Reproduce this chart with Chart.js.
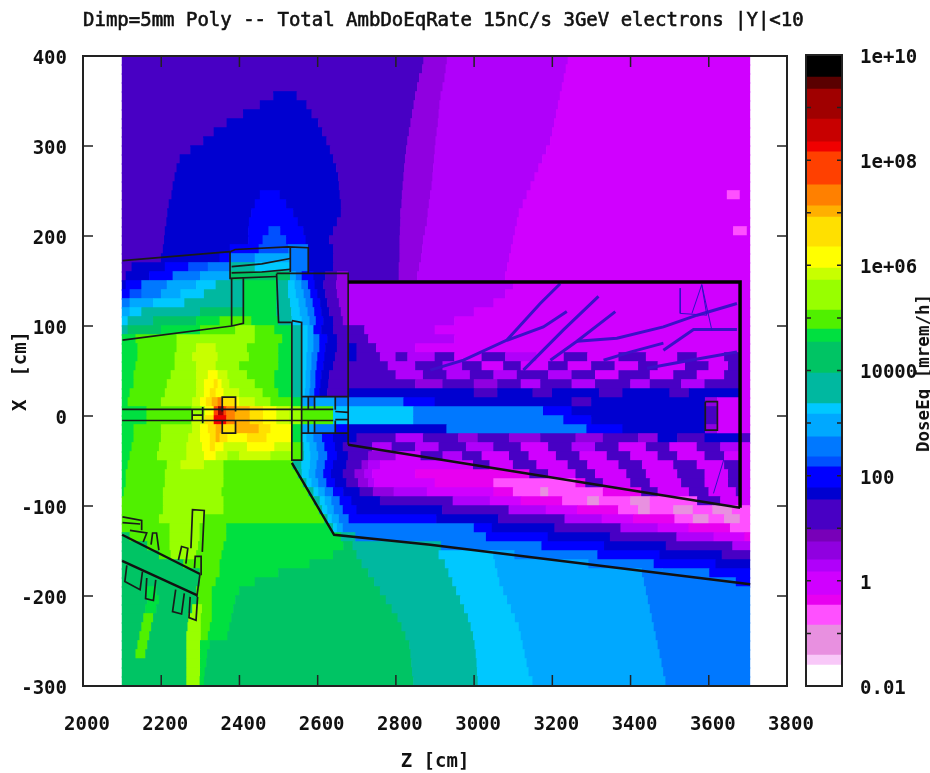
<!DOCTYPE html>
<html>
<head>
<meta charset="utf-8">
<title>Total AmbDoEqRate</title>
<script src="https://cdn.jsdelivr.net/npm/chart.js@4"></script>
<style>
  html, body { margin: 0; padding: 0; background: #fff; }
  canvas { filter: blur(0.6px); }
  #main { position: absolute; left: 0; top: 0; }
  #bar { position: absolute; left: 790px; top: 0; }
  #plotTitle {
    position: absolute; left: 83px; top: 8px; white-space: nowrap;
    font: 19px "DejaVu Sans Mono", monospace; color: #111; -webkit-text-stroke: 0.6px #111;
  }
  #barTitle {
    position: absolute; left: 923px; top: 373px; white-space: nowrap;
    font: bold 17.5px "DejaVu Sans Mono", monospace; color: #111;
    transform: translate(-50%, -50%) rotate(-90deg);
  }
</style>
</head>
<body>
<canvas id="main" width="930" height="773"></canvas>
<canvas id="bar" width="140" height="773"></canvas>
<div id="plotTitle">Dimp=5mm Poly -- Total AmbDoEqRate 15nC/s 3GeV electrons |Y|&lt;10</div>
<div id="barTitle">DoseEq [mrem/h]</div>
<script>
// colour bands, low dose to high dose
const bandKeys = 'abcdefghijklmnopqrstuvwxyzABCDEF'.split('');
const bandColors = ['#ffffff', '#f8c8f8', '#e890e0', '#ff50ff', '#e800f0', '#d000ff', '#b000fa', '#9000e0',
  '#7800b8', '#4800c4', '#0000d0', '#0000ff', '#0050ff', '#0078ff', '#00a8ff', '#00c8ff',
  '#00b8a0', '#00c464', '#00e040', '#50f000', '#98ff00', '#c8ff00', '#ffff00', '#ffe000',
  '#ffb000', '#ff8000', '#ff4000', '#f00000', '#c80000', '#a00000', '#5a0000', '#000000'];
// log10 of the band limits
const bandEdges = [-2, -1.6, -1.41, -0.84, -0.46, -0.27, 0.17, 0.4, 0.74, 0.97, 1.54, 1.77, 2.17, 2.36, 2.74,
  3.17, 3.37, 3.95, 4.54, 4.79, 5.15, 5.72, 5.95, 6.35, 6.92, 7.13, 7.53, 8.16, 8.35, 8.78, 9.35, 9.58, 10];

const zStart = 2100;
const rowX = [395, 385, 375, 365, 355, 345, 335, 325, 315, 305, 295, 285, 275, 265, 255, 245, 235, 225, 215, 205,
  195, 185, 175, 165, 155, 145, 135, 125, 115, 105, 95, 85, 75, 65, 55, 45, 35, 25, 15, 5,
  -5, -15, -25, -35, -45, -55, -65, -75, -85, -95, -105, -115, -125, -135, -145, -155, -165, -175, -185, -195,
  -205, -215, -225, -235, -245, -255, -265, -275, -285, -295];
// one string per row: band letter + Z where that band stops
const rowRuns = [
  'j2871 h2931 g3240 f3705',
  'j2868 h2928 g3235 f3705',
  'j2860 h2925 g3230 f3705',
  'j2855 h2920 g3225 f3705',
  'j2487 k2547 j2850 h2915 g3220 f3705',
  'j2453 k2572 j2846 h2912 g3215 f3705',
  'j2410 k2585 j2842 h2910 g3210 f3705',
  'j2368 k2602 j2838 h2908 g3205 f3705',
  'j2335 k2612 j2834 h2905 g3200 f3705',
  'j2308 k2623 j2830 h2902 g3195 f3705',
  'j2275 k2632 j2827 h2900 g3185 f3705',
  'j2248 k2640 j2824 h2898 g3175 f3705',
  'j2240 k2648 j2822 h2896 g3165 f3705',
  'j2235 k2653 j2820 h2894 g3155 f3705',
  'j2230 k2655 j2818 h2892 g3145 f3705',
  'j2227 k2453 l2504 k2657 j2816 h2888 g3135 f3647 d3680 f3705',
  'j2220 k2440 l2520 k2660 j2815 h2885 g3125 f3705',
  'j2216 k2431 l2538 k2660 j2812 h2882 g3115 f3705',
  'j2214 k2425 l2550 k2650 j2812 h2880 g3110 f3705',
  'j2210 k2423 l2475 m2505 l2564 k2640 j2811 h2875 g3105 f3663 d3698 f3705',
  'j2208 k2423 l2460 m2520 l2570 k2630 j2810 h2870 g3100 f3705',
  'j2205 k2376 l2450 m2525 n2576 k2640 j2810 h2868 g3095 f3705',
  'j2200 k2350 l2376 n2440 o2530 n2576 k2640 j2810 h2865 g3090 f3705',
  'j2125 k2210 l2270 m2320 n2376 q2440 p2530 n2576 k2640 j2808 h2860 g3085 f3705',
  'j2110 k2170 l2230 n2300 o2376 r2530 o2545 n2560 l2590 k2620 j2650 h2678 j2808 h2855 g3080 f3705',
  'k2110 l2150 n2215 o2290 p2340 q2410 s2495 q2525 p2542 o2559 n2576 l2593 k2615 j2648 h2678 g3100 f3705',
  'l2120 m2150 n2200 o2250 p2310 q2410 s2495 q2525 p2545 o2565 n2582 l2600 k2620 j2650 h2678 g3080 f3705',
  'n2120 o2180 p2260 q2410 s2495 q2530 p2552 o2570 n2588 l2607 k2625 j2655 h2678 g3050 f3705',
  'o2120 p2150 q2300 r2410 s2495 q2533 p2555 o2575 n2592 l2610 k2630 j2660 h2678 g3000 f3705',
  'p2115 q2180 r2290 s2350 t2431 s2500 q2534 p2560 o2580 n2596 l2615 k2640 j2665 h2678 g2950 f3705',
  'q2115 r2200 s2300 t2390 u2440 t2490 s2534 q2559 p2575 o2590 l2610 k2640 j2678 j2720 g2900 f3705',
  's2135 t2240 u2440 t2510 s2534 q2559 p2575 o2590 n2605 l2625 k2650 j2678 j2730 g2950 f3705',
  's2140 t2240 u2290 v2340 u2420 t2500 s2534 q2559 p2575 o2590 n2605 l2620 k2650 j2678 k2700 j2750 g2850 f3705',
  's2140 t2235 u2280 v2345 u2425 t2500 s2534 q2559 p2572 o2585 n2600 l2618 k2645 j2678 k2700 j2760 g2800 j2830 g2900 j2950 f3020 j3080 g3160 f3230 j3290 f3370 j3440 f3520 j3570 f3640 j3680 f3705',
  's2135 t2235 u2290 v2340 u2400 t2500 s2534 q2559 p2572 o2585 n2598 l2615 k2640 j2678 j2780 g2850 j2920 g2970 j3020 f3075 j3120 f3190 j3240 f3300 j3360 f3420 j3470 f3540 j3600 f3650 j3680 f3705',
  's2130 t2225 u2290 v2320 w2345 v2370 u2420 t2490 s2534 q2559 p2570 o2582 n2595 l2610 k2630 j2678 j2800 g2870 j2930 g2990 j3050 g3110 j3190 g3250 j3310 f3370 j3450 f3510 j3570 f3640 j3680 f3705',
  's2130 t2215 u2290 v2310 w2335 x2345 w2355 v2375 u2440 t2490 s2534 q2559 p2570 o2582 n2595 l2608 k2628 j2678 j2850 h2920 j3000 h3060 j3120 g3170 j3250 g3310 j3400 g3450 j3530 g3590 j3680 f3705',
  's2120 t2210 u2290 v2310 w2325 x2340 w2360 v2400 u2460 t2500 s2534 q2559 p2568 o2580 n2592 l2605 k2625 j2678 k3000 j3060 k3150 j3200 k3320 j3380 k3500 j3550 k3680 f3705',
  's2115 t2200 u2280 v2300 w2315 x2330 y2345 z2356 x2390 w2400 v2440 u2480 t2534 s2559 o2576 n2592 o2645 n2678 n2820 l2900 k3250 j3300 k3591 h3622 f3705',
  's2163 t2278 u2312 w2335 A2346 D2360 A2367 z2389 y2427 x2461 w2495 v2529 u2559 t2640 p2678 p2845 n3177 l3250 k3591 j3622 f3705',
  's2163 t2278 v2312 x2335 B2346 B2367 z2389 y2427 x2461 w2495 v2529 u2559 t2640 p2678 p2845 n3229 l3300 k3591 j3622 f3705',
  's2130 t2200 u2280 v2300 w2320 x2340 y2356 x2390 y2450 x2480 w2534 s2559 o2592 n2645 l2678 k2930 n3288 l3380 k3591 h3622 f3705',
  's2130 t2200 u2270 v2300 w2325 x2340 y2350 x2370 w2420 x2470 w2534 s2559 p2572 o2590 n2612 l2640 k2678 k2700 j2800 g2870 j2960 h3010 j3090 h3170 j3260 h3330 j3420 h3470 k3520 j3590 k3680 j3705',
  's2125 t2195 u2265 v2305 w2325 x2338 w2360 v2420 w2490 v2534 t2559 q2565 p2580 o2598 n2618 l2645 k2665 j2678 j2740 g2790 j2850 g2910 j2980 g3050 j3120 f3190 j3250 g3310 j3370 f3440 j3500 f3570 j3630 g3680 f3705',
  's2120 t2190 u2265 v2310 w2340 v2370 u2400 v2480 u2534 t2559 q2566 p2582 o2602 n2625 l2650 k2678 j2730 h2800 f2864 j2920 g2970 j3020 f3090 j3140 f3210 j3270 f3340 j3400 f3470 j3520 f3590 j3640 f3705',
  's2115 t2215 u2250 v2310 u2360 t2537 q2559 p2581 o2598 n2619 l2640 k2674 j2713 h2730 g2760 f2998 j3040 f3100 j3160 f3240 j3290 f3370 j3430 f3510 j3570 f3640 j3680 f3705',
  's2110 t2210 u2360 t2550 q2560 p2578 o2595 n2615 l2635 k2665 j2695 h2720 g2740 f2850 e3142 j3190 f3260 j3310 f3390 j3440 f3520 j3590 f3650 j3680 f3705',
  's2110 t2210 u2360 t2563 q2572 p2585 o2602 n2623 l2645 k2674 j2704 h2730 g2745 f2900 e3050 d3260 e3285 j3330 f3400 j3450 f3530 j3590 f3650 j3680 f3705',
  's2105 t2205 u2355 t2577 q2590 p2602 o2619 n2640 l2666 k2708 j2742 h2795 g2880 f3050 e3100 d3170 c3190 d3330 e3428 j3470 f3550 j3600 f3670 j3680 f3705',
  't2205 u2360 t2591 q2606 p2619 o2636 n2657 l2687 k2760 j2946 g3041 f3120 e3226 d3290 c3320 d3400 c3450 d3571 j3630 f3705',
  't2205 u2360 t2604 q2612 p2625 o2642 n2665 l2700 k2919 j3089 g3184 f3264 e3369 d3420 c3450 d3510 c3560 d3610 c3660 d3705',
  't2195 u2310 t2618 q2626 p2637 o2655 n2680 l2904 k3062 j3232 g3327 f3407 e3513 d3560 c3600 d3640 c3680 d3705',
  't2222 u2299 t2367 s2632 q2640 p2650 o2665 n3000 l3046 k3206 j3375 g3470 f3549 e3655 d3705',
  'r2120 t2222 u2299 t2367 s2660 q2697 n3031 l3189 k3348 j3518 g3613 f3692 e3705',
  'r2165 t2222 u2295 t2360 s2666 r2690 q2916 n3173 l3333 k3491 j3661 g3705',
  'r2195 t2225 u2290 t2355 s2640 r2700 q2910 p3050 o3104 n3316 l3475 k3634 j3705',
  'r2257 t2350 s2580 r2713 q2926 p3054 o3293 n3460 l3618 k3705',
  'r2299 t2350 s2500 r2730 q2935 p3060 o3430 n3482 n3602 l3705',
  'r2299 t2340 s2440 r2745 q2945 p3065 o3435 n3670 l3705',
  'r2160 s2188 r2290 t2330 s2400 r2760 q2955 p3075 o3440 n3705',
  'r2165 s2195 r2295 t2330 s2390 r2775 q2965 p3085 o3445 n3705',
  'r2160 s2188 r2280 u2305 t2330 s2385 r2790 q2975 p3095 o3450 n3705',
  'r2155 t2180 r2270 u2302 t2330 s2380 r2805 q2985 p3105 o3455 n3705',
  'r2150 t2175 r2268 u2302 t2325 s2375 r2815 q2992 p3115 o3460 n3705',
  'r2145 t2170 r2265 u2302 t2320 s2370 r2825 q2998 p3120 o3465 n3705',
  'r2140 t2165 r2265 u2300 s2325 r2835 q3002 p3125 o3470 n3705',
  'r2135 t2160 r2265 u2300 s2318 r2838 q3005 p3130 o3475 n3705',
  'r2265 u2300 s2316 r2840 q3007 p3135 o3480 n3705',
  'r2265 u2300 s2312 r2842 q3008 p3140 o3484 n3705',
  'r2265 u2299 s2310 r2845 q3010 p3150 o3490 n3705'
];

const xTicks = { min: 2000, max: 3800, step: 200 };
const yTicks = { min: -300, max: 400, step: 100 };
const barLabels = { '10': '1e+10', '8': '1e+08', '6': '1e+06', '4': '10000', '2': '100', '0': '1', '-2': '0.01' };

// geometry outlines, [Z, X] in cm
const heavyOutlines = [
  [[2678, 149], [3680, 149], [3680, -102]]
];
const mediumOutlines = [
  [[2100, -132], [2299, -175.6]],
  [[2100, -161], [2291, -199]],
  [[2534, -52], [2642, -132], [2888, -143], [3706, -187]],
  [[2678, -32], [3680, -102]]
];
const outlines = [
  [[2101, 172.6], [2376, 182.6], [2389, 185], [2525, 188], [2576, 187], [2576, 158.5]],
  [[2376, 182.6], [2376, 153], [2495, 155]],
  [[2495, 158.5], [2678, 158.5], [2678, -32]],
  [[2380, 166], [2457, 169], [2530, 175]],
  [[2380, 159], [2457, 160], [2530, 163]],
  [[2530, 187], [2530, 160]],
  [[2380, 153], [2380, 100]],
  [[2410, 153], [2410, 103], [2380, 100], [2101, 84.4]],
  [[2495, 158], [2500, 104], [2534, 104], [2534, -49], [2559, -49], [2559, 104], [2534, 106]],
  [[2100, 7.4], [2640, 7.4]],
  [[2100, -5], [2640, -5]],
  [[2356, 5], [2356, 21], [2390, 21], [2390, 5]],
  [[2356, -5], [2356, -19], [2390, -19], [2390, -5]],
  [[2279, 7.4], [2279, -5]],
  [[2279, 1], [2306, 1]],
  [[2306, 10], [2306, -8]],
  [[2559, 21.5], [2678, 21.5]],
  [[2559, -19], [2678, -19]],
  [[2576, 21.5], [2576, 7]], [[2592, 21.5], [2592, 7]], [[2645, 21.5], [2645, 7]],
  [[2576, -19], [2576, -5]], [[2592, -19], [2592, -5]], [[2645, -19], [2645, -5]],
  [[2645, 5], [2678, 4]], [[2645, -4], [2678, -4]],
  [[3591, 15.9], [3622, 15.9], [3622, -15.6], [3591, -15.6], [3591, 15.9]],
  [[2101, -112], [2150, -116], [2150, -127]],
  [[2101, -118.5], [2146, -120]],
  [[2120, -127], [2163, -130], [2154, -140]],
  [[2174, -143], [2178, -130], [2188, -130], [2194, -149]],
  [[2244, -160], [2252, -145], [2268, -147], [2263, -164]],
  [[2276, -147], [2280, -104], [2310, -105], [2305, -151]],
  [[2285, -169], [2287, -156], [2302, -156], [2302, -177]],
  [[2299, -176], [2291, -201]],
  [[2112, -166], [2107, -184], [2146, -193], [2152, -173]],
  [[2163, -180], [2160, -203], [2180, -205], [2186, -182]],
  [[2237, -193], [2229, -217.4], [2252, -220], [2259, -197]],
  [[2274, -201], [2271, -224], [2289, -227], [2293, -201]]
];
// dark streaks of dose across the tunnel
const streaks = [
  [[2888, 51], [2973, 62], [3084, 84.4], [3169, 125], [3220, 147]],
  [[3126, 51], [3229, 96], [3318, 133]],
  [[3195, 62], [3263, 83], [3361, 116]],
  [[3084, 84], [3177, 99], [3237, 116]],
  [[3263, 83], [3365, 86.3], [3484, 99], [3570, 112], [3672, 125]],
  [[3484, 73], [3561, 96], [3672, 96]],
  [[3442, 53], [3553, 62], [3672, 71]],
  [[3331, 62], [3399, 71], [3484, 81]]
];
const thinStreaks = [
  [[3527, 142], [3527, 114], [3595, 112], [3582, 146], [3557, 114]],
  [[3582, 146], [3608, 95]],
  [[3612, -86], [3638, -49]]
];

const fontName = '"DejaVu Sans Mono", monospace';
const inkColor = '#111';

// turn the row strings into floating bars
const cells = [];
rowRuns.forEach((runs, i) => {
  let from = zStart;
  runs.split(' ').forEach(run => {
    const to = Number(run.slice(1));
    cells.push({ x: [from, to], y: rowX[i], band: bandKeys.indexOf(run[0]) });
    from = to;
  });
});

function lineSets(lines, color, width) {
  return lines.map(line => ({
    type: 'scatter',
    indexAxis: 'x',
    data: line.map(p => ({ x: p[0], y: p[1] })),
    showLine: true,
    borderColor: color,
    borderWidth: width,
    pointRadius: 0,
    order: 0
  }));
}

// short inward ticks on all four sides plus the frame
const frame = {
  id: 'frame',
  afterDatasetsDraw(chart, args, opts) {
    const { ctx, chartArea: a, scales } = chart;
    ctx.save();
    ctx.strokeStyle = '#222';
    ctx.lineWidth = 1.5;
    ctx.beginPath();
    if (opts.xLen) {
      scales.x.ticks.forEach(t => {
        const px = scales.x.getPixelForValue(t.value);
        ctx.moveTo(px, a.top); ctx.lineTo(px, a.top + opts.xLen);
        ctx.moveTo(px, a.bottom); ctx.lineTo(px, a.bottom - opts.xLen);
      });
    }
    for (let v = scales.y.min; v <= scales.y.max; v += opts.yStep) {
      const py = scales.y.getPixelForValue(v);
      ctx.moveTo(a.left, py); ctx.lineTo(a.left + opts.yLen, py);
      ctx.moveTo(a.right, py); ctx.lineTo(a.right - opts.yLen, py);
    }
    ctx.stroke();
    ctx.lineWidth = 2;
    ctx.strokeRect(a.left, a.top, a.right - a.left, a.bottom - a.top);
    ctx.restore();
  }
};

new Chart(document.getElementById('main'), {
  type: 'scatter',
  plugins: [frame],
  data: {
    datasets: [
      ...lineSets(heavyOutlines, '#000', 3.5),
      ...lineSets(mediumOutlines, '#111', 2.4),
      ...lineSets(outlines, '#1a1a1a', 1.7),
      ...lineSets(thinStreaks, '#3010c8', 1),
      ...lineSets(streaks, '#3c10c8', 3),
      {
        type: 'bar',
        indexAxis: 'y',
        data: cells,
        backgroundColor: ctx => bandColors[ctx.raw ? ctx.raw.band : 0],
        barThickness: 10,
        borderWidth: 0,
        order: 5
      }
    ]
  },
  options: {
    responsive: false,
    animation: false,
    events: [],
    layout: { padding: { right: 143, bottom: 0, top: 56, left: 0 } },
    plugins: {
      legend: { display: false },
      tooltip: { enabled: false },
      title: { display: false },
      frame: { xLen: 11, yLen: 10, yStep: 100 }
    },
    scales: {
      x: {
        type: 'linear',
        offset: false,
        min: xTicks.min,
        max: xTicks.max,
        grid: { display: false, drawTicks: false, offset: false },
        border: { display: false },
        ticks: {
          stepSize: xTicks.step,
          padding: 28,
          labelOffset: 4,
          maxRotation: 0,
          color: inkColor,
          font: { family: fontName, size: 19, weight: 'bold' },
          callback: v => String(v)
        },
        title: {
          display: true,
          text: 'Z [cm]',
          color: inkColor,
          font: { family: fontName, size: 19, weight: 'bold' },
          padding: { top: 0, bottom: 0 }
        },
        afterFit: s => { s.height = 87; }
      },
      y: {
        type: 'linear',
        offset: false,
        min: yTicks.min,
        max: yTicks.max,
        grid: { display: false, drawTicks: false, offset: false },
        border: { display: false },
        ticks: {
          stepSize: yTicks.step,
          padding: 16,
          labelOffset: 3,
          color: inkColor,
          font: { family: fontName, size: 19, weight: 'bold' },
          callback: v => String(v)
        },
        title: {
          display: true,
          text: 'X  [cm]',
          color: inkColor,
          font: { family: fontName, size: 19, weight: 'bold' },
          padding: { top: 10, bottom: 0 }
        },
        afterFit: s => { s.width = 83; }
      }
    }
  }
});

// colour bar
new Chart(document.getElementById('bar'), {
  type: 'bar',
  plugins: [frame],
  data: {
    labels: [''],
    datasets: bandColors.map((c, i) => ({
      data: [[bandEdges[i], bandEdges[i + 1]]],
      backgroundColor: c,
      borderWidth: 0,
      grouped: false,
      barPercentage: 1,
      categoryPercentage: 1
    }))
  },
  options: {
    responsive: false,
    animation: false,
    events: [],
    layout: { padding: { left: 16, right: 0, top: 55, bottom: 87 } },
    plugins: {
      legend: { display: false },
      tooltip: { enabled: false },
      frame: { xLen: 0, yLen: 5, yStep: 1 }
    },
    scales: {
      x: { display: false },
      y: {
        position: 'right',
        min: -2,
        max: 10,
        grid: { display: false, drawTicks: false },
        border: { display: false },
        ticks: {
          stepSize: 2,
          padding: 18,
          labelOffset: 3,
          color: inkColor,
          font: { family: fontName, size: 19, weight: 'bold' },
          callback: v => barLabels[String(v)]
        },
        afterFit: s => { s.width = 88; }
      }
    }
  }
});
</script>
</body>
</html>
